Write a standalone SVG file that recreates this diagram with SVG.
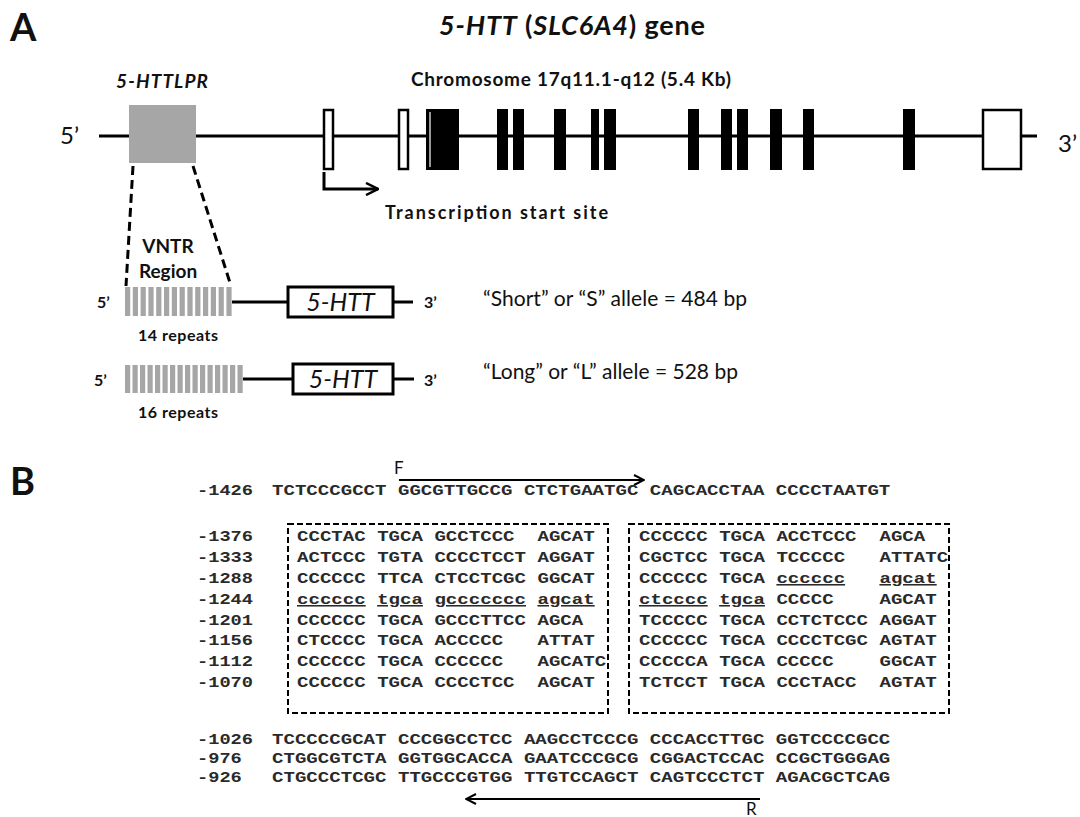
<svg xmlns="http://www.w3.org/2000/svg" width="1080" height="817" viewBox="0 0 1080 817">
<defs>
<style>
.sans{font-family:Lato,"Liberation Sans",sans-serif;fill:#111}
.b{font-weight:bold}
.i{font-style:italic}
.seq{font-family:"Liberation Mono","DejaVu Sans Mono",monospace;font-size:15.5px;font-weight:bold;fill:#2a2a2a;white-space:pre}
.u{text-decoration:underline}
.ln{stroke:#000;stroke-width:3;fill:none}
.ex{fill:#000}
.exo{fill:#fff;stroke:#000;stroke-width:2.5}
.bar{fill:#a6a6a6}
.dash{stroke:#000;stroke-width:3;stroke-dasharray:9 5;fill:none}
.box{fill:none;stroke:#000;stroke-width:2;stroke-dasharray:6 3}
.arr{stroke:#000;stroke-width:2;fill:none}
</style>
<marker id="ah" viewBox="0 0 12 12" refX="11" refY="6" markerWidth="12" markerHeight="12" markerUnits="userSpaceOnUse" orient="auto">
<path d="M1,1 L11,6 L1,11" fill="none" stroke="#000" stroke-width="2"/>
</marker>
<marker id="ah2" viewBox="0 0 14 14" refX="13" refY="7" markerWidth="14" markerHeight="14" markerUnits="userSpaceOnUse" orient="auto">
<path d="M1,1 L13,7 L1,13" fill="none" stroke="#000" stroke-width="2.5"/>
</marker>
</defs>
<rect width="1080" height="817" fill="#fff"/>

<g id="panelA-labels">
<text class="sans b" x="10" y="41" font-size="38">A</text>
<text class="sans b" x="439" y="35" font-size="27" textLength="266"><tspan class="i">5-HTT</tspan> (<tspan class="i">SLC6A4</tspan>) gene</text>
<text class="sans b i" x="116" y="88" font-size="19" textLength="92">5-HTTLPR</text>
<text class="sans b" x="411" y="86" font-size="19" textLength="320">Chromosome 17q11.1-q12 (5.4 Kb)</text>
</g>

<g id="gene">
<line class="ln" x1="99" y1="136" x2="1037" y2="136"/>
<text class="sans" x="60" y="144" font-size="24">5’</text>
<text class="sans" x="1058" y="152" font-size="24">3’</text>
<rect id="hlpr" class="bar" x="129" y="105" width="67" height="58"/>
<rect class="exo" x="324" y="110" width="9" height="59"/>
<rect class="exo" x="399" y="110" width="9" height="59"/>
<rect class="ex" x="426" y="109" width="33" height="61"/>
<line x1="430" y1="112" x2="430" y2="167" stroke="#fff" stroke-width="1.2"/>
<rect class="ex" x="497" y="109" width="11" height="61"/>
<rect class="ex" x="513" y="109" width="11" height="61"/>
<rect class="ex" x="554" y="109" width="12" height="61"/>
<rect class="ex" x="591" y="109" width="8" height="61"/>
<rect class="ex" x="604" y="109" width="12" height="61"/>
<rect class="ex" x="688" y="109" width="11" height="61"/>
<rect class="ex" x="721" y="109" width="11" height="61"/>
<rect class="ex" x="737" y="109" width="11" height="61"/>
<rect class="ex" x="770" y="109" width="12" height="61"/>
<rect class="ex" x="803" y="109" width="11" height="61"/>
<rect class="ex" x="903" y="109" width="12" height="61"/>
<rect class="exo" x="983" y="110" width="38" height="59"/>
</g>

<g id="tss">
<path class="ln" d="M324,172 V189 H378" stroke-width="2.5" marker-end="url(#ah2)"/>
<text class="sans b" x="385" y="219" font-size="18" textLength="223">Transcription start site</text>
</g>

<g id="zoom-lines">
<line class="dash" x1="133" y1="166" x2="126" y2="286"/>
<line class="dash" x1="193" y1="166" x2="231" y2="286"/>
<text class="sans b" x="168" y="253" font-size="19" text-anchor="middle">VNTR</text>
<text class="sans b" x="168" y="278" font-size="19" text-anchor="middle">Region</text>
</g>

<g id="short-allele">
<text class="sans b" x="97" y="308" font-size="16">5’</text>
<g class="bar">
<rect x="125" y="287" width="5.2" height="29"/><rect x="132.8" y="287" width="5.2" height="29"/><rect x="140.6" y="287" width="5.2" height="29"/><rect x="148.4" y="287" width="5.2" height="29"/><rect x="156.2" y="287" width="5.2" height="29"/><rect x="164" y="287" width="5.2" height="29"/><rect x="171.8" y="287" width="5.2" height="29"/><rect x="179.6" y="287" width="5.2" height="29"/><rect x="187.4" y="287" width="5.2" height="29"/><rect x="195.2" y="287" width="5.2" height="29"/><rect x="203" y="287" width="5.2" height="29"/><rect x="210.8" y="287" width="5.2" height="29"/><rect x="218.6" y="287" width="5.2" height="29"/><rect x="226.4" y="287" width="5.2" height="29"/>
</g>
<line class="ln" x1="232" y1="302" x2="288" y2="302"/>
<rect x="288" y="287" width="105" height="30" fill="#fff" stroke="#000" stroke-width="3"/>
<text class="sans i" x="340.5" y="311" font-size="25" text-anchor="middle">5-HTT</text>
<line class="ln" x1="393" y1="302" x2="413" y2="302"/>
<text class="sans b" x="424" y="308" font-size="16">3’</text>
<text class="sans b" x="178" y="341" font-size="16" text-anchor="middle" textLength="80">14 repeats</text>
<text class="sans" x="483" y="306" font-size="21" textLength="264">“Short” or “S” allele = 484 bp</text>
</g>

<g id="long-allele">
<text class="sans b" x="94" y="386" font-size="16">5’</text>
<g class="bar">
<rect x="125" y="365" width="5.2" height="28"/><rect x="132.5" y="365" width="5.2" height="28"/><rect x="140" y="365" width="5.2" height="28"/><rect x="147.5" y="365" width="5.2" height="28"/><rect x="155" y="365" width="5.2" height="28"/><rect x="162.5" y="365" width="5.2" height="28"/><rect x="170" y="365" width="5.2" height="28"/><rect x="177.5" y="365" width="5.2" height="28"/><rect x="185" y="365" width="5.2" height="28"/><rect x="192.5" y="365" width="5.2" height="28"/><rect x="200" y="365" width="5.2" height="28"/><rect x="207.5" y="365" width="5.2" height="28"/><rect x="215" y="365" width="5.2" height="28"/><rect x="222.5" y="365" width="5.2" height="28"/><rect x="230" y="365" width="5.2" height="28"/><rect x="237.5" y="365" width="5.2" height="28"/>
</g>
<line class="ln" x1="243" y1="379" x2="293" y2="379"/>
<rect x="293" y="364" width="100" height="30" fill="#fff" stroke="#000" stroke-width="3"/>
<text class="sans i" x="343" y="388" font-size="25" text-anchor="middle">5-HTT</text>
<line class="ln" x1="393" y1="379" x2="414" y2="379"/>
<text class="sans b" x="424" y="386" font-size="16">3’</text>
<text class="sans b" x="178" y="418" font-size="16" text-anchor="middle" textLength="80">16 repeats</text>
<text class="sans" x="483" y="379" font-size="21" textLength="255">“Long” or “L” allele = 528 bp</text>
</g>

<g id="panelB">
<text class="sans b" x="10" y="495" font-size="38">B</text>

<g id="primers">
<line class="arr" x1="399" y1="480" x2="644" y2="480" marker-end="url(#ah)"/>
<text class="sans" x="394" y="474" font-size="17">F</text>
<line class="arr" x1="760" y1="799" x2="466" y2="799" marker-end="url(#ah)"/>
<text class="sans" x="746" y="815" font-size="17">R</text>
</g>

<g id="row-labels" class="seq">
<text x="197" y="495" textLength="56" lengthAdjust="spacingAndGlyphs">-1426</text>
<text x="197" y="541" textLength="56" lengthAdjust="spacingAndGlyphs">-1376</text>
<text x="197" y="562" textLength="56" lengthAdjust="spacingAndGlyphs">-1333</text>
<text x="197" y="583" textLength="56" lengthAdjust="spacingAndGlyphs">-1288</text>
<text x="197" y="604" textLength="56" lengthAdjust="spacingAndGlyphs">-1244</text>
<text x="197" y="624.5" textLength="56" lengthAdjust="spacingAndGlyphs">-1201</text>
<text x="197" y="645" textLength="56" lengthAdjust="spacingAndGlyphs">-1156</text>
<text x="197" y="666" textLength="56" lengthAdjust="spacingAndGlyphs">-1112</text>
<text x="197" y="687" textLength="56" lengthAdjust="spacingAndGlyphs">-1070</text>
<text x="197" y="744" textLength="56" lengthAdjust="spacingAndGlyphs">-1026</text>
<text x="197" y="763" textLength="44.8" lengthAdjust="spacingAndGlyphs">-976</text>
<text x="197" y="782" textLength="44.8" lengthAdjust="spacingAndGlyphs">-926</text>
</g>

<g id="seq-top" class="seq">
<text x="272" y="495" textLength="618.3" lengthAdjust="spacingAndGlyphs" xml:space="preserve">TCTCCCGCCT GGCGTTGCCG CTCTGAATGC CAGCACCTAA CCCCTAATGT</text>
</g>

<g id="repeat-box-1">
<rect class="box" x="288" y="524" width="320" height="189"/>
<g class="seq">
<text x="297" y="541" textLength="297.7" lengthAdjust="spacingAndGlyphs" xml:space="preserve">CCCTAC TGCA GCCTCCC  AGCAT</text>
<text x="297" y="562" textLength="297.7" lengthAdjust="spacingAndGlyphs" xml:space="preserve">ACTCCC TGTA CCCCTCCT AGGAT</text>
<text x="297" y="583" textLength="297.7" lengthAdjust="spacingAndGlyphs" xml:space="preserve">CCCCCC TTCA CTCCTCGC GGCAT</text>
<text x="297" y="604" textLength="297.7" lengthAdjust="spacingAndGlyphs" xml:space="preserve"><tspan class="u">cccccc</tspan> <tspan class="u">tgca</tspan> <tspan class="u">gccccccc</tspan> <tspan class="u">agcat</tspan></text>
<text x="297" y="624.5" textLength="286.25" lengthAdjust="spacingAndGlyphs" xml:space="preserve">CCCCCC TGCA GCCCTTCC AGCA</text>
<text x="297" y="645" textLength="297.7" lengthAdjust="spacingAndGlyphs" xml:space="preserve">CTCCCC TGCA ACCCCC   ATTAT</text>
<text x="297" y="666" textLength="309.15" lengthAdjust="spacingAndGlyphs" xml:space="preserve">CCCCCC TGCA CCCCCC   AGCATC</text>
<text x="297" y="687" textLength="297.7" lengthAdjust="spacingAndGlyphs" xml:space="preserve">CCCCCC TGCA CCCCTCC  AGCAT</text>
</g>
</g>

<g id="repeat-box-2">
<rect class="box" x="629" y="524" width="320" height="189"/>
<g class="seq">
<text x="639" y="541" textLength="286.25" lengthAdjust="spacingAndGlyphs" xml:space="preserve">CCCCCC TGCA ACCTCCC  AGCA</text>
<text x="639" y="562" textLength="309.15" lengthAdjust="spacingAndGlyphs" xml:space="preserve">CGCTCC TGCA TCCCCC   ATTATC</text>
<text x="639" y="583" textLength="297.7" lengthAdjust="spacingAndGlyphs" xml:space="preserve">CCCCCC TGCA <tspan class="u">cccccc</tspan>   <tspan class="u">agcat</tspan></text>
<text x="639" y="604" textLength="297.7" lengthAdjust="spacingAndGlyphs" xml:space="preserve"><tspan class="u">ctcccc</tspan> <tspan class="u">tgca</tspan> CCCCC    AGCAT</text>
<text x="639" y="624.5" textLength="297.7" lengthAdjust="spacingAndGlyphs" xml:space="preserve">TCCCCC TGCA CCTCTCCC AGGAT</text>
<text x="639" y="645" textLength="297.7" lengthAdjust="spacingAndGlyphs" xml:space="preserve">CCCCCC TGCA CCCCTCGC AGTAT</text>
<text x="639" y="666" textLength="297.7" lengthAdjust="spacingAndGlyphs" xml:space="preserve">CCCCCA TGCA CCCCC    GGCAT</text>
<text x="639" y="687" textLength="297.7" lengthAdjust="spacingAndGlyphs" xml:space="preserve">TCTCCT TGCA CCCTACC  AGTAT</text>
</g>
</g>

<g id="seq-bottom" class="seq">
<text x="272" y="744" textLength="618.3" lengthAdjust="spacingAndGlyphs" xml:space="preserve">TCCCCCGCAT CCCGGCCTCC AAGCCTCCCG CCCACCTTGC GGTCCCCGCC</text>
<text x="272" y="763" textLength="618.3" lengthAdjust="spacingAndGlyphs" xml:space="preserve">CTGGCGTCTA GGTGGCACCA GAATCCCGCG CGGACTCCAC CCGCTGGGAG</text>
<text x="272" y="782" textLength="618.3" lengthAdjust="spacingAndGlyphs" xml:space="preserve">CTGCCCTCGC TTGCCCGTGG TTGTCCAGCT CAGTCCCTCT AGACGCTCAG</text>
</g>
</g>
</svg>
